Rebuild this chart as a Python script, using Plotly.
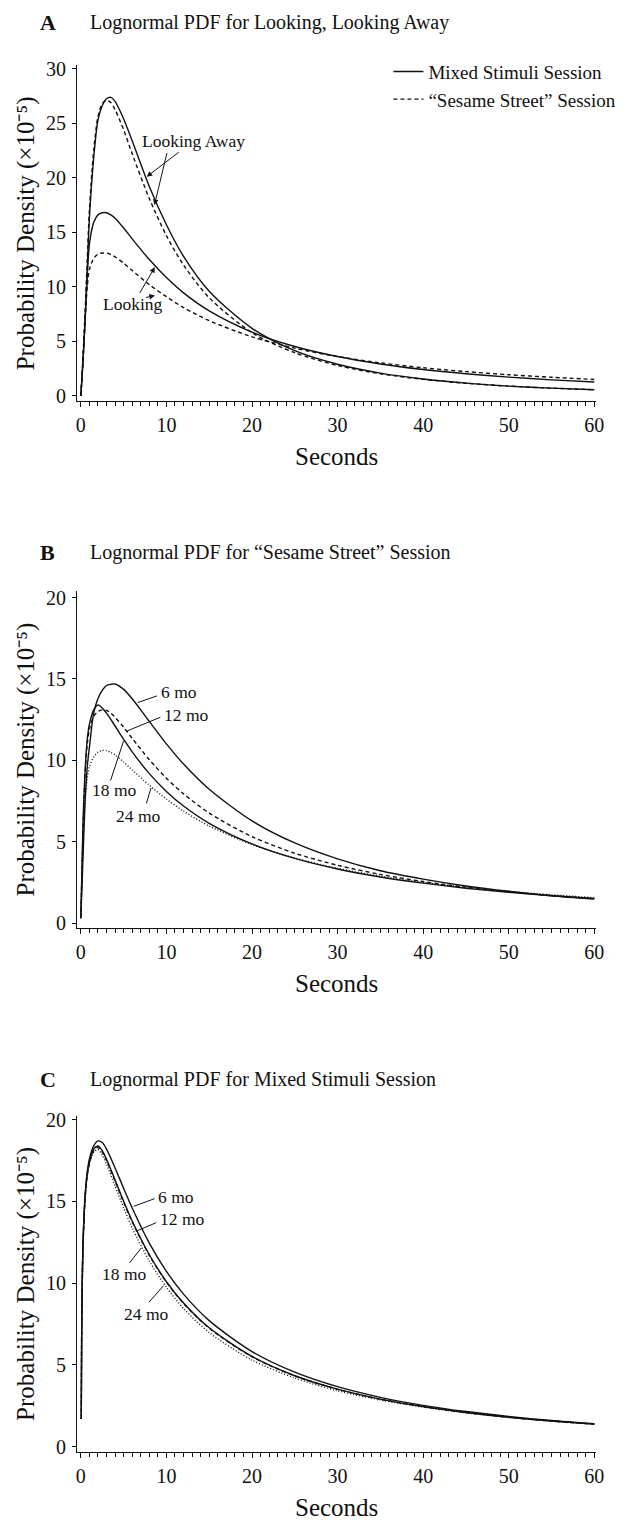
import plotly.graph_objects as go

# ---------------- data ----------------
SECONDS_AB = [0, 0.25, 0.5, 0.75, 1, 1.5, 2, 2.5, 3, 3.5, 4, 5, 6, 8, 10, 12, 15,
              20, 25, 30, 35, 40, 45, 50, 55, 60]
SECONDS_C = [0.05, 0.1, 0.2, 0.3, 0.5, 0.75, 1, 1.5, 2, 2.5, 3, 4, 5, 6, 8, 10, 12,
             15, 20, 25, 30, 35, 40, 45, 50, 55, 60]

# Panel A
away_mixed = [0, 3.2, 7.0, 11.6, 16.3, 21.8, 25.3, 26.6, 27.25, 27.38, 27.0, 25.4, 23.4,
              19.2, 15.7, 12.8, 9.6, 6.2, 4.15, 2.9, 2.09, 1.55, 1.17, 0.9, 0.71, 0.56]
away_sesame = [0, 3.6, 7.8, 12.5, 17.0, 22.5, 25.6, 26.8, 27.1, 26.9, 26.25, 24.4, 22.2,
               18.1, 14.7, 12.0, 9.0, 5.8, 3.96, 2.79, 2.03, 1.52, 1.16, 0.9, 0.71, 0.57]
look_mixed = [0, 3.2, 7.0, 11.0, 13.9, 15.9, 16.6, 16.8, 16.8, 16.6, 16.3, 15.4, 14.4,
              12.5, 10.85, 9.45, 7.8, 5.85, 4.53, 3.61, 2.93, 2.42, 2.03, 1.72, 1.47, 1.27]
look_sesame = [0, 3.2, 7.0, 10.0, 11.6, 12.6, 13.0, 13.1, 13.1, 12.97, 12.75, 12.17, 11.5,
               10.2, 9.1, 8.1, 6.9, 5.42, 4.38, 3.61, 3.03, 2.58, 2.23, 1.94, 1.71, 1.51]

# Panel B ("Sesame Street" session, by age)
ses_6 = [0.3, 4.0, 7.5, 9.6, 10.8, 12.9, 13.8, 14.3, 14.6, 14.67, 14.69, 14.36, 13.78,
         12.39, 11.01, 9.77, 8.22, 6.28, 4.92, 3.94, 3.21, 2.7, 2.28, 1.95, 1.68, 1.47]
ses_12 = [0.3, 5.5, 9.2, 11.0, 11.9, 12.7, 13.0, 13.1, 13.07, 12.9, 12.65, 12.03, 11.35,
          10.04, 8.9, 7.94, 6.76, 5.31, 4.29, 3.55, 2.99, 2.55, 2.2, 1.92, 1.69, 1.5]
ses_18 = [0.4, 6.2, 9.4, 11.3, 12.2, 13.1, 13.4, 13.22, 12.9, 12.51, 12.11, 11.29, 10.52,
          9.18, 8.09, 7.19, 6.13, 4.86, 3.97, 3.32, 2.83, 2.45, 2.14, 1.89, 1.68, 1.51]
ses_24 = [0.3, 5.0, 7.6, 8.9, 9.6, 10.2, 10.5, 10.6, 10.6, 10.49, 10.33, 9.9, 9.41,
          8.47, 7.62, 6.88, 5.96, 4.82, 3.99, 3.36, 2.88, 2.5, 2.2, 1.95, 1.74, 1.56]

# Panel C (Mixed stimuli session, by age)
mix_6 = [1.7, 7.2, 11.3, 13.2, 15.4, 16.8, 17.6, 18.4, 18.7, 18.6, 18.2, 17.05, 15.8,
         14.6, 12.45, 10.72, 9.33, 7.71, 5.82, 4.56, 3.67, 3.02, 2.53, 2.15, 1.85, 1.6, 1.4]
mix_12 = [1.7, 7.2, 11.2, 13.1, 15.3, 16.7, 17.4, 18.2, 18.39, 18.1, 17.58, 16.31, 15.01,
          13.8, 11.74, 10.1, 8.79, 7.27, 5.52, 4.34, 3.52, 2.91, 2.45, 2.09, 1.8, 1.57, 1.38]
mix_18 = [1.7, 7.1, 11.1, 13.0, 15.2, 16.6, 17.3, 18.1, 18.3, 18.02, 17.5, 16.24, 14.95,
          13.75, 11.7, 10.06, 8.76, 7.25, 5.5, 4.33, 3.51, 2.9, 2.45, 2.09, 1.8, 1.57, 1.38]
mix_24 = [1.7, 7.1, 11.1, 13.0, 15.2, 16.6, 17.3, 18.0, 18.18, 17.84, 17.28, 15.95, 14.61,
          13.38, 11.35, 9.75, 8.45, 6.98, 5.3, 4.2, 3.42, 2.86, 2.42, 2.07, 1.79, 1.56, 1.37]

X_TICKS = [0, 10, 20, 30, 40, 50, 60]
Y_TICKS_A = [0, 5, 10, 15, 20, 25, 30]
Y_TICKS_BC = [0, 5, 10, 15, 20]
X_TITLE = "Seconds"
Y_TITLE = "Probability Density (\u00d710\u207b\u2075)"

# ---------------- figure ----------------
W, H = 636, 1528
FONT = "Liberation Serif"
BLACK = "#111111"


def px_x(p):
    return p / W


def px_y(p):
    return 1 - p / H


fig = go.Figure()


def add_line(x, y, axis, dash, name=None, legend=False, width=1.4):
    fig.add_trace(go.Scatter(
        x=x, y=y, mode="lines", name=name, showlegend=legend,
        xaxis="x" + axis, yaxis="y" + axis,
        line=dict(color=BLACK, width=width, dash=dash, shape="spline", smoothing=0.8),
        hoverinfo="skip"))


DASH = "4px,3px"
DOT = "1px,2px"

add_line(SECONDS_AB, away_mixed, "", "solid", "Mixed Stimuli Session", True)
add_line(SECONDS_AB, away_sesame, "", DASH, "\u201cSesame Street\u201d Session", True)
add_line(SECONDS_AB, look_mixed, "", "solid")
add_line(SECONDS_AB, look_sesame, "", DASH)

add_line(SECONDS_AB, ses_6, "2", "solid")
add_line(SECONDS_AB, ses_12, "2", DASH)
add_line(SECONDS_AB, ses_18, "2", "solid")
add_line(SECONDS_AB, ses_24, "2", DOT)

add_line(SECONDS_C, mix_6, "3", "solid")
add_line(SECONDS_C, mix_12, "3", "solid")
add_line(SECONDS_C, mix_18, "3", DASH)
add_line(SECONDS_C, mix_24, "3", DOT)

XDOM = [px_x(77), px_x(604)]
XRANGE = [-0.46, 60.25]

xcommon = dict(domain=XDOM, range=XRANGE, showgrid=False, zeroline=False,
               showline=True, linecolor=BLACK, linewidth=1,
               ticks="outside", ticklen=5, tickwidth=1, tickcolor=BLACK,
               tickvals=X_TICKS, ticklabelstandoff=1,
               minor=dict(ticks="outside", ticklen=4, dtick=1, tickcolor=BLACK, tickwidth=1,
                          showgrid=False),
               tickfont=dict(family=FONT, size=20, color=BLACK),
               title=dict(text=X_TITLE, standoff=12,
                          font=dict(family=FONT, size=25, color=BLACK)))
ycommon = dict(showgrid=False, zeroline=False, showline=True, linecolor=BLACK, linewidth=1,
               ticks="outside", ticklen=4, tickwidth=1, tickcolor=BLACK,
               tickfont=dict(family=FONT, size=20, color=BLACK), ticklabelstandoff=2,
               title=dict(text=Y_TITLE, standoff=4,
                          font=dict(family=FONT, size=25, color=BLACK)))

layout = dict(
    width=W, height=H, margin=dict(l=0, r=0, t=0, b=0),
    paper_bgcolor="white", plot_bgcolor="white",
    showlegend=True,
    legend=dict(x=px_x(393), y=px_y(45), xanchor="left", yanchor="top",
                bgcolor="rgba(0,0,0,0)", itemwidth=30, tracegroupgap=0,
                font=dict(family=FONT, size=19, color=BLACK)),
    xaxis=dict(**xcommon, anchor="y"),
    xaxis2=dict(**xcommon, anchor="y2"),
    xaxis3=dict(**xcommon, anchor="y3"),
    yaxis=dict(**ycommon, anchor="x", domain=[px_y(397), px_y(58)], range=[-0.5, 30.3],
               tickvals=Y_TICKS_A),
    yaxis2=dict(**ycommon, anchor="x2", domain=[px_y(929), px_y(588)], range=[-0.335, 20.43],
                tickvals=Y_TICKS_BC),
    yaxis3=dict(**ycommon, anchor="x3", domain=[px_y(1457.5), px_y(1118)],
                range=[-0.333, 20.24], tickvals=Y_TICKS_BC),
)
fig.update_layout(**layout)

ann = []


def text(x, y, s, size=18, xanchor="center", bold=False, xref="paper", yref="paper"):
    if bold:
        s = "<b>" + s + "</b>"
    ann.append(dict(x=x, y=y, xref=xref, yref=yref, text=s, showarrow=False,
                    xanchor=xanchor, yanchor="middle",
                    font=dict(family=FONT, size=size, color=BLACK)))


# panel letters and titles
for letter, title, ypx in [("A", "Lognormal PDF for Looking, Looking Away", 15),
                           ("B", "Lognormal PDF for \u201cSesame Street\u201d Session", 550),
                           ("C", "Lognormal PDF for Mixed Stimuli Session", 1081)]:
    text(px_x(38), px_y(ypx), letter, size=22, xanchor="left", bold=True)
    text(px_x(88), px_y(ypx), title, size=20, xanchor="left")

LBL = 17.5


def labelled_arrow(s, tx, ty, x, y):
    # text centred at (tx, ty) in panel A data units, arrow to (x, y)
    ann.append(dict(x=x, y=y, ax=tx, ay=ty, xref="x", yref="y", axref="x", ayref="y",
                    text=s, showarrow=True, arrowhead=2, arrowsize=1.1, arrowwidth=1,
                    arrowcolor=BLACK, standoff=0,
                    font=dict(family=FONT, size=LBL, color=BLACK)))


def arrow(x, y, ax, ay):
    ann.append(dict(x=x, y=y, ax=ax, ay=ay, xref="x", yref="y",
                    axref="x", ayref="y", text="", showarrow=True,
                    arrowhead=2, arrowsize=1.1, arrowwidth=1, arrowcolor=BLACK,
                    standoff=0, startstandoff=0))


# panel A curve labels with arrows
labelled_arrow("Looking Away", 13.2, 23.4, 7.7, 20.1)
arrow(8.6, 17.5, 10.1, 22.4)
labelled_arrow("Looking", 6.1, 8.4, 8.65, 11.8)
arrow(8.65, 9.2, 7.45, 9.0)


def leader(x0, y0, x1, y1, axis):
    fig.add_shape(type="line", x0=x0, y0=y0, x1=x1, y1=y1, xref="x" + axis,
                  yref="y" + axis, line=dict(color=BLACK, width=1))


# panel B labels
text(9.1, 14.2, "6 mo", size=LBL, xanchor="left", xref="x2", yref="y2")
text(9.5, 12.8, "12 mo", size=LBL, xanchor="left", xref="x2", yref="y2")
text(3.9, 8.2, "18 mo", size=LBL, xref="x2", yref="y2")
text(6.7, 6.55, "24 mo", size=LBL, xref="x2", yref="y2")
leader(6.65, 13.55, 8.9, 13.96, "2")
leader(5.4, 11.8, 9.3, 12.65, "2")
leader(5.0, 11.2, 3.47, 8.76, "2")
leader(8.2, 8.3, 7.66, 7.35, "2")

# panel C labels
text(8.8, 15.3, "6 mo", size=LBL, xanchor="left", xref="x3", yref="y3")
text(9.0, 13.9, "12 mo", size=LBL, xanchor="left", xref="x3", yref="y3")
text(5.1, 10.55, "18 mo", size=LBL, xref="x3", yref="y3")
text(7.6, 8.14, "24 mo", size=LBL, xref="x3", yref="y3")
leader(6.17, 14.7, 8.62, 15.17, "3")
leader(6.56, 13.2, 8.8, 13.7, "3")
leader(7.07, 12.16, 5.7, 11.25, "3")
leader(9.67, 9.85, 7.96, 8.84, "3")

fig.update_layout(annotations=ann)
fig.write_html("out.html")
